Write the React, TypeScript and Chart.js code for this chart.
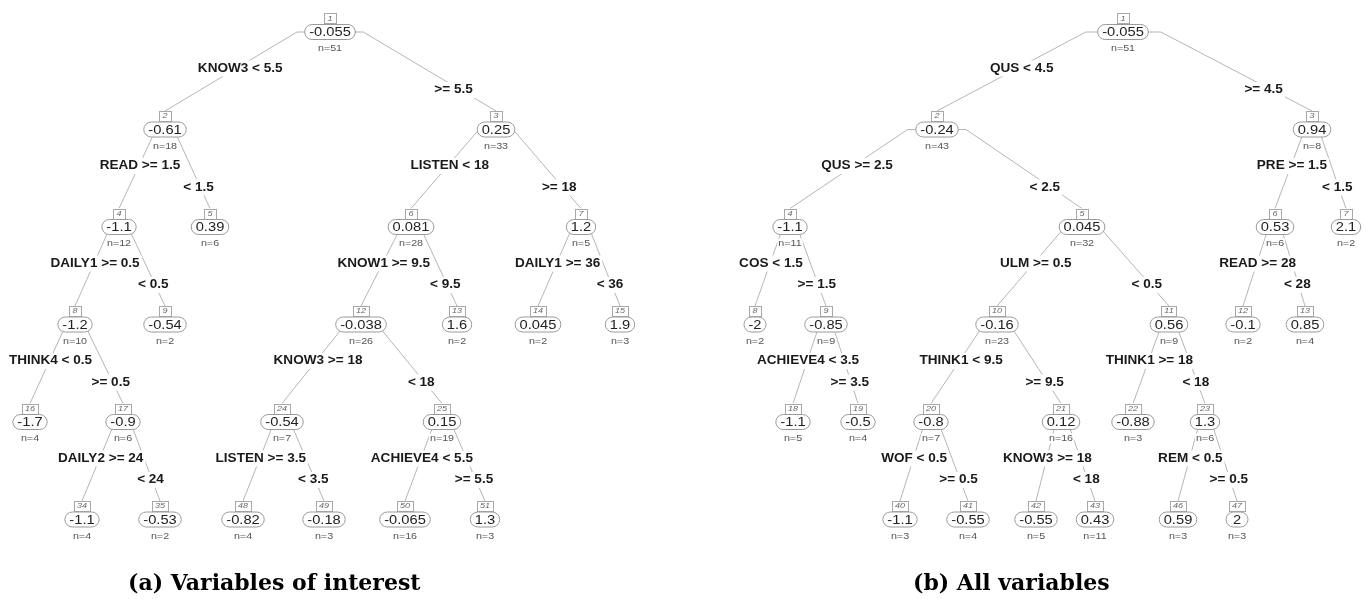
import React, { useEffect, useRef } from "react";
import { Chart, registerables } from "chart.js";

Chart.register(...registerables);

// ---------- Tree (a): Variables of interest ----------
const treeA_ids = [1, 2, 3, 4, 5, 6, 7, 8, 9, 12, 13, 14, 15, 16, 17, 24, 25, 34, 35, 48, 49, 50, 51];
const treeA_values = [-0.055, -0.61, 0.25, -1.1, 0.39, 0.081, 1.2, -1.2, -0.54, -0.038, 1.6, 0.045, 1.9, -1.7, -0.9, -0.54, 0.15, -1.1, -0.53, -0.82, -0.18, -0.065, 1.3];
const treeA_n = [51, 18, 33, 12, 6, 28, 5, 10, 2, 26, 2, 2, 3, 4, 6, 7, 19, 4, 2, 4, 3, 16, 3];
const treeA_layoutX = [330, 165, 496, 119, 210, 411, 581, 75, 165, 361, 457, 538, 620, 30, 123, 282, 442, 82, 160, 243, 324, 405, 485];
const treeA_splitNodes = [1, 2, 3, 4, 6, 7, 8, 12, 17, 24, 25];
const treeA_leftLabels = ["KNOW3 < 5.5", "READ >= 1.5", "LISTEN < 18", "DAILY1 >= 0.5", "KNOW1 >= 9.5", "DAILY1 >= 36", "THINK4 < 0.5", "KNOW3 >= 18", "DAILY2 >= 24", "LISTEN >= 3.5", "ACHIEVE4 < 5.5"];
const treeA_rightLabels = [">= 5.5", "< 1.5", ">= 18", "< 0.5", "< 9.5", "< 36", ">= 0.5", "< 18", "< 24", "< 3.5", ">= 5.5"];
const treeA_caption = "(a) Variables of interest";

// ---------- Tree (b): All variables ----------
const treeB_ids = [1, 2, 3, 4, 5, 6, 7, 8, 9, 10, 11, 12, 13, 18, 19, 20, 21, 22, 23, 40, 41, 42, 43, 46, 47];
const treeB_values = [-0.055, -0.24, 0.94, -1.1, 0.045, 0.53, 2.1, -2, -0.85, -0.16, 0.56, -0.1, 0.85, -1.1, -0.5, -0.8, 0.12, -0.88, 1.3, -1.1, -0.55, -0.55, 0.43, 0.59, 2];
const treeB_n = [51, 43, 8, 11, 32, 6, 2, 2, 9, 23, 9, 2, 4, 5, 4, 7, 16, 3, 6, 3, 4, 5, 11, 3, 3];
const treeB_layoutX = [1123, 937, 1312, 790, 1082, 1275, 1346, 755, 826, 997, 1169, 1243, 1305, 793, 858, 931, 1061, 1133, 1205, 900, 968, 1036, 1095, 1178, 1237];
const treeB_splitNodes = [1, 2, 3, 4, 5, 6, 9, 10, 11, 20, 21, 23];
const treeB_leftLabels = ["QUS < 4.5", "QUS >= 2.5", "PRE >= 1.5", "COS < 1.5", "ULM >= 0.5", "READ >= 28", "ACHIEVE4 < 3.5", "THINK1 < 9.5", "THINK1 >= 18", "WOF < 0.5", "KNOW3 >= 18", "REM < 0.5"];
const treeB_rightLabels = [">= 4.5", "< 2.5", "< 1.5", ">= 1.5", "< 0.5", "< 28", ">= 3.5", ">= 9.5", "< 18", ">= 0.5", "< 18", ">= 0.5"];
const treeB_caption = "(b) All variables";

const depthOf = (id: number) => Math.floor(Math.log2(id));

interface TreeProps {
  ids: number[];
  values: number[];
  ns: number[];
  xs: number[];
  splitNodes: number[];
  leftLabels: string[];
  rightLabels: string[];
  xMin: number;
  xMax: number;
  caption: string;
  captionX: number;
}

const SHOULDER = 0.2;
const BOX_OFF = 18.5; // px above node centre where branch meets the number box
const LEVEL = 97.5;
const TOP = 32;
const H = 599;
const SX = 1.13; // horizontal text stretch

function TreeChart(p: TreeProps) {
  const ref = useRef<HTMLCanvasElement | null>(null);

  useEffect(() => {
    const canvas = ref.current;
    if (!canvas) return;
    const idx = new Map<number, number>();
    p.ids.forEach((id, i) => idx.set(id, i));
    const boxOffDepth = BOX_OFF / LEVEL;

    const edgePts: any[] = [];
    p.ids.forEach((id, i) => {
      if (id === 1) return;
      const pi = idx.get(Math.floor(id / 2))!;
      const px = p.xs[pi];
      const pd = depthOf(p.ids[pi]);
      const cx = p.xs[i];
      const cd = depthOf(id);
      const sh = px + SHOULDER * (cx - px);
      edgePts.push({ x: px, y: pd }, { x: sh, y: pd }, { x: cx, y: cd - boxOffDepth }, { x: cx, y: null });
    });

    const yMin = -TOP / LEVEL;
    const yMax = yMin + H / LEVEL;

    const stretchText = (ctx: CanvasRenderingContext2D, t: string, x: number, y: number) => {
      ctx.save();
      ctx.translate(x, y);
      ctx.scale(SX, 1);
      ctx.fillText(t, 0, 0);
      ctx.restore();
    };

    const treePlugin = {
      id: "treeNodes",
      afterDatasetsDraw(chart: any) {
        const ctx: CanvasRenderingContext2D = chart.ctx;
        const xs = chart.scales.x;
        const ys = chart.scales.y;
        ctx.save();
        ctx.textAlign = "center";
        ctx.textBaseline = "middle";

        // split labels
        ctx.font = "bold 12px 'Liberation Sans', Arial, sans-serif";
        p.splitNodes.forEach((id, k) => {
          const pi = idx.get(id)!;
          const px = xs.getPixelForValue(p.xs[pi]);
          const py = ys.getPixelForValue(depthOf(id));
          [
            { child: id * 2, label: p.leftLabels[k], t: 0.43, dy: 36.5 },
            { child: id * 2 + 1, label: p.rightLabels[k], t: 0.68, dy: 58 },
          ].forEach((s) => {
            const ci = idx.get(s.child)!;
            const cx = xs.getPixelForValue(p.xs[ci]);
            const sh = px + SHOULDER * (cx - px);
            const lx = sh + (cx - sh) * s.t;
            const ly = py + s.dy;
            const w = ctx.measureText(s.label).width * SX;
            ctx.fillStyle = "#ffffff";
            ctx.fillRect(lx - w / 2 - 2, ly - 8, w + 4, 16);
            ctx.fillStyle = "#1a1a1a";
            stretchText(ctx, s.label, lx, ly);
          });
        });

        // nodes
        p.ids.forEach((id, i) => {
          const x = xs.getPixelForValue(p.xs[i]);
          const y = ys.getPixelForValue(depthOf(id));
          // number box
          ctx.font = "italic 8px 'Liberation Sans', Arial, sans-serif";
          const numT = String(id);
          const bw = Math.max(12, ctx.measureText(numT).width * SX + 6);
          ctx.fillStyle = "#ffffff";
          ctx.fillRect(x - bw / 2, y - 18.5, bw, 10);
          ctx.strokeStyle = "#a8a8a8";
          ctx.lineWidth = 1;
          ctx.strokeRect(Math.round(x - bw / 2) + 0.5, Math.round(y - 18.5) + 0.5, Math.round(bw), 10);
          ctx.fillStyle = "#666666";
          stretchText(ctx, numT, x, y - 13.3);

          // value pill
          ctx.font = "13px 'Liberation Sans', Arial, sans-serif";
          const valT = String(p.values[i]);
          const tw = ctx.measureText(valT).width * SX;
          const pw = Math.max(22, tw + 9);
          const ph = 15;
          const r = ph / 2;
          ctx.beginPath();
          ctx.roundRect(x - pw / 2, y - ph / 2, pw, ph, r);
          ctx.fillStyle = "#ffffff";
          ctx.fill();
          ctx.strokeStyle = "#9a9a9a";
          ctx.lineWidth = 1;
          ctx.stroke();
          ctx.fillStyle = "#222222";
          stretchText(ctx, valT, x, y + 0.5);

          // n=
          ctx.font = "9.5px 'Liberation Sans', Arial, sans-serif";
          const nT = "n=" + p.ns[i];
          const nw = ctx.measureText(nT).width * SX;
          ctx.fillStyle = "#ffffff";
          ctx.fillRect(x - nw / 2 - 1, y + 11.5, nw + 2, 10);
          ctx.fillStyle = "#555555";
          stretchText(ctx, nT, x, y + 16.5);
        });
        ctx.restore();
      },
      afterDraw(chart: any) {
        const ctx: CanvasRenderingContext2D = chart.ctx;
        ctx.save();
        ctx.font = "bold 22px 'DejaVu Serif', serif";
        ctx.fillStyle = "#000000";
        ctx.textAlign = "left";
        ctx.textBaseline = "alphabetic";
        ctx.fillText(p.caption, p.captionX, 590);
        ctx.restore();
      },
    };

    const chart = new Chart(canvas, {
      type: "scatter",
      data: {
        datasets: [
          {
            label: "branches",
            data: edgePts,
            showLine: true,
            spanGaps: false,
            borderColor: "#b5b5b5",
            borderWidth: 1,
            pointRadius: 0,
            pointHoverRadius: 0,
            fill: false,
            tension: 0,
          } as any,
        ],
      },
      options: {
        animation: false,
        responsive: true,
        maintainAspectRatio: false,
        layout: { padding: 0, autoPadding: false } as any,
        events: [],
        plugins: { legend: { display: false }, tooltip: { enabled: false }, title: { display: false } },
        scales: {
          x: { type: "linear", display: false, min: p.xMin, max: p.xMax },
          y: { type: "linear", display: false, reverse: true, min: yMin, max: yMax },
        },
      },
      plugins: [treePlugin],
    });
    return () => chart.destroy();
  }, []);

  return (
    <div style={{ width: 683, height: 599, position: "relative" }}>
      <canvas ref={ref} />
    </div>
  );
}

export default function App() {
  useEffect(() => {
    document.body.style.margin = "0";
    document.body.style.background = "#ffffff";
  }, []);
  return (
    <div style={{ display: "flex", width: 1366, height: 599, background: "#ffffff" }}>
      <TreeChart
        ids={treeA_ids}
        values={treeA_values}
        ns={treeA_n}
        xs={treeA_layoutX}
        splitNodes={treeA_splitNodes}
        leftLabels={treeA_leftLabels}
        rightLabels={treeA_rightLabels}
        xMin={0}
        xMax={683}
        caption={treeA_caption}
        captionX={128}
      />
      <TreeChart
        ids={treeB_ids}
        values={treeB_values}
        ns={treeB_n}
        xs={treeB_layoutX}
        splitNodes={treeB_splitNodes}
        leftLabels={treeB_leftLabels}
        rightLabels={treeB_rightLabels}
        xMin={683}
        xMax={1366}
        caption={treeB_caption}
        captionX={230}
      />
    </div>
  );
}
